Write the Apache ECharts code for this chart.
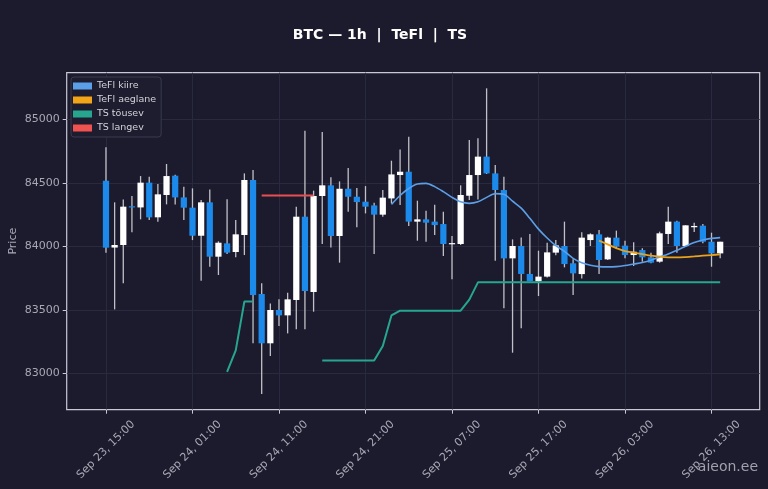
<!DOCTYPE html>
<html lang="en">

<head>
  <meta charset="UTF-8">
  <title>BTC — 1h | TeFl | TS</title>
  <script src="https://cdn.jsdelivr.net/npm/echarts@6/dist/echarts.min.js"></script>
  <style>
    html, body {
      margin: 0;
      padding: 0;
      background: #1c1b2d;
    }

    #chart {
      width: 768px;
      height: 489px;
    }
  </style>
</head>

<body>
  <div id="chart"></div>

  <script>
    // tunnised küünlad, Sep 23 15:00 ... Sep 26 14:00
    const opens = [84516, 83990, 84010, 84315, 84306, 84501, 84228, 84404, 84556, 84385,
      84304, 84083, 84346, 83918, 84023, 83955, 84089, 84522, 83624, 83236,
      83498, 83456, 83577, 84233, 83640, 84396, 84480, 84081, 84453, 84390,
      84351, 84322, 84249, 84377, 84561, 84587, 84194, 84212, 84194, 84175,
      84020, 84018, 84398, 84561, 84706, 84574, 84443, 83905, 84002, 83782,
      83724, 83761, 83950, 84002, 83866, 83781, 84049, 84094, 83897, 84068,
      84005, 83931, 83970, 83913, 83879, 84097, 84194, 84002, 84150, 84162,
      84036, 83944]
    const closes = [83989, 84010, 84312, 84310, 84501, 84228, 84409, 84553, 84385, 84304,
      84083, 84346, 83918, 84028, 83950, 84094, 84522, 83616, 83236, 83498,
      83456, 83582, 84233, 83648, 84396, 84480, 84081, 84453, 84390, 84348,
      84312, 84249, 84383, 84566, 84587, 84194, 84212, 84186, 84167, 84018,
      84025, 84404, 84561, 84706, 84574, 84443, 83905, 84002, 83782, 83724,
      83761, 83952, 84007, 83860, 83787, 84068, 84094, 83892, 84068, 83997,
      83931, 83957, 83913, 83871, 84102, 84194, 84002, 84165, 84160, 84036,
      83944, 84036]
    const lows = [83949, 83503, 83708, 84110, 84212, 84207, 84194, 84330, 84330, 84207,
      84049, 83729, 83839, 83774, 83939, 83913, 83931, 83236, 82837, 83136,
      83372, 83314, 83346, 83346, 83485, 84018, 83991, 83871, 84272, 84149,
      84259, 83939, 84233, 84338, 84325, 84160, 84044, 84036, 84089, 83923,
      83740, 84010, 84364, 84369, 84569, 83887, 83511, 83162, 83354, 83724,
      83608, 83755, 83929, 83834, 83616, 83747, 84002, 83781, 83892, 83978,
      83905, 83845, 83879, 83866, 83871, 84018, 83950, 83997, 84112, 84023,
      83839, 83905]
    const highs = [84779, 84346, 84369, 84396, 84553, 84548, 84490, 84648, 84564, 84469,
      84456, 84364, 84448, 84039, 84370, 84207, 84574, 84600, 83708, 83550,
      83582, 83634, 84312, 84910, 84438, 84900, 84543, 84511, 84616, 84459,
      84474, 84343, 84443, 84674, 84763, 84863, 84359, 84280, 84328, 84272,
      84081, 84480, 84837, 84850, 85244, 84640, 84548, 84054, 84070, 84097,
      83965, 84028, 84049, 84194, 83897, 84110, 84102, 84128, 84076, 84123,
      84044, 84031, 83984, 83950, 84115, 84312, 84202, 84165, 84186, 84175,
      84107, 84036]

    const _ = null
    const tefiKiire = [_, _, _, _, _, _, _, _, _, _,
      _, _, _, _, _, _, _, _, _, _,
      _, _, _, _, _, _, _, _, _, _,
      _, _, _, 84330, 84400, 84455, 84490, 84495, 84470, 84430,
      84385, 84350, 84338, 84350, 84385, 84415, 84410, 84355, 84300, 84220,
      84135, 84065, 84005, 83960, 83905, 83870, 83850, 83840, 83838, 83840,
      83848, 83860, 83872, 83890, 83915, 83940, 83968, 84000, 84030, 84050,
      84062, 84068]
    const tefiAeglane = [_, _, _, _, _, _, _, _, _, _,
      _, _, _, _, _, _, _, _, _, _,
      _, _, _, _, _, _, _, _, _, _,
      _, _, _, _, _, _, _, _, _, _,
      _, _, _, _, _, _, _, _, _, _,
      _, _, _, _, _, _, _, 84045, 84015, 83985,
      83962, 83950, 83938, 83926, 83918, 83913, 83912, 83915, 83920, 83926,
      83931, 83936]
    const tsTousev = [_, _, _, _, _, _, _, _, _, _,
      _, _, _, _, 83010, 83180, 83565, 83565, _, _,
      _, _, _, _, _, 83100, 83100, 83100, 83100, 83100,
      83100, 83100, 83215, 83455, 83493, 83493, 83493, 83493, 83493, 83493,
      83493, 83493, 83580, 83716, 83716, 83716, 83716, 83716, 83716, 83716,
      83716, 83716, 83716, 83716, 83716, 83716, 83716, 83716, 83716, 83716,
      83716, 83716, 83716, 83716, 83716, 83716, 83716, 83716, 83716, 83716,
      83716, 83716]
    const tsLangev = [_, _, _, _, _, _, _, _, _, _,
      _, _, _, _, _, _, _, _, 84400, 84400,
      84400, 84400, 84400, 84400, 84400, _, _, _, _, _,
      _, _, _, _, _, _, _, _, _, _,
      _, _, _, _, _, _, _, _, _, _,
      _, _, _, _, _, _, _, _, _, _,
      _, _, _, _, _, _, _, _, _, _,
      _, _]

    const xTicks = [0, 10, 20, 30, 40, 50, 60, 70]
    const xTickLabels = ['Sep 23, 15:00', 'Sep 24, 01:00', 'Sep 24, 11:00', 'Sep 24, 21:00',
      'Sep 25, 07:00', 'Sep 25, 17:00', 'Sep 26, 03:00', 'Sep 26, 13:00']
    const yTicks = [83000, 83500, 84000, 84500, 85000]

    const bg = '#1c1b2d'
    const frame = '#c8c8d6'
    const gridLine = '#2a2a3f'
    const labelColor = '#a8a8b6'
    const upColor = '#ffffff'
    const downColor = '#1b8aeb'
    const wickColor = '#c0c0c8'
    const font = 'DejaVu Sans'

    function pairs(arr) {
      return arr.map((v, i) => [i, v])
    }

    function renderCandle(params, api) {
      const x = api.value(0)
      const o = api.value(1)
      const c = api.value(2)
      const pO = api.coord([x, o])
      const pC = api.coord([x, c])
      const pL = api.coord([x, api.value(3)])
      const pH = api.coord([x, api.value(4)])
      const w = api.size([1, 0])[0] * 0.72
      const top = Math.min(pO[1], pC[1])
      const h = Math.max(Math.abs(pO[1] - pC[1]), 1.2)
      return {
        type: 'group',
        children: [{
            type: 'line',
            shape: { x1: pL[0], y1: pL[1], x2: pH[0], y2: pH[1] },
            style: { stroke: wickColor, lineWidth: 1.3 }
          },
          {
            type: 'rect',
            shape: { x: pO[0] - w / 2, y: top, width: w, height: h },
            style: { fill: c >= o ? upColor : downColor }
          }
        ]
      }
    }

    const candleData = opens.map((o, i) => [i, o, closes[i], lows[i], highs[i]])

    const myChart = echarts.init(document.getElementById('chart'))
    const option = {
      backgroundColor: bg,
      animation: false,
      textStyle: { fontFamily: font },
      title: {
        text: 'BTC \u2014 1h  |  TeFl  |  TS',
        left: 375,
        top: 23,
        textAlign: 'center',
        textStyle: { color: '#ffffff', fontSize: 14, fontWeight: 'bold', fontFamily: font }
      },
      legend: {
        data: ['TeFl kiire', 'TeFl aeglane', 'TS tõusev', 'TS langev'],
        orient: 'vertical',
        left: 71,
        top: 77,
        icon: 'rect',
        itemWidth: 19,
        itemHeight: 7,
        itemGap: 2,
        padding: [3, 5, 3, 2],
        backgroundColor: '#1e1d30',
        borderColor: '#3a3a4f',
        borderWidth: 1,
        borderRadius: 3,
        textStyle: { color: '#d2d2da', fontSize: 9.5, lineHeight: 12, fontFamily: font }
      },
      grid: {
        left: 66.7,
        right: 8.3,
        top: 72.7,
        bottom: 79.3,
        outerBoundsMode: 'none',
        containLabel: false,
        show: true,
        borderColor: frame,
        borderWidth: 1.2,
        backgroundColor: bg
      },
      xAxis: {
        type: 'value',
        min: -4.54,
        max: 75.57,
        axisLine: { show: false, onZero: false },
        axisTick: { show: true, length: 4, customValues: xTicks, lineStyle: { color: frame } },
        splitLine: { show: true, lineStyle: { color: gridLine, width: 1 } },
        axisLabel: {
          customValues: xTicks,
          rotate: 45,
          align: 'center',
          verticalAlign: 'middle',
          margin: 40,
          color: labelColor,
          fontSize: 11,
          fontFamily: font,
          formatter: v => xTickLabels[xTicks.indexOf(Math.round(v))] || ''
        }
      },
      yAxis: {
        type: 'value',
        min: 82713,
        max: 85367,
        name: 'Price',
        nameLocation: 'middle',
        nameGap: 48,
        nameMoveOverlap: false,
        nameTextStyle: { color: labelColor, fontSize: 11, fontFamily: font },
        axisLine: { show: false, onZero: false },
        axisTick: { show: true, length: 4, customValues: yTicks, lineStyle: { color: frame } },
        splitLine: { show: true, lineStyle: { color: gridLine, width: 1 } },
        axisLabel: {
          customValues: yTicks,
          margin: 7,
          color: labelColor,
          fontSize: 11,
          fontFamily: font,
          formatter: v => String(v)
        }
      },
      graphic: [{
        type: 'text',
        right: 10,
        top: 460,
        style: {
          text: 'aieon.ee',
          fill: '#a0a0ae',
          font: '14px "DejaVu Sans"'
        }
      }],
      series: [{
          name: 'BTC',
          type: 'custom',
          renderItem: renderCandle,
          encode: { x: 0, y: [1, 2, 3, 4] },
          data: candleData,
          z: 2
        },
        {
          name: 'TeFl kiire',
          type: 'line',
          data: pairs(tefiKiire),
          showSymbol: false,
          smooth: 0.3,
          itemStyle: { color: '#5b9fe8' },
          lineStyle: { color: '#5b9fe8', width: 1.6 },
          z: 3
        },
        {
          name: 'TeFl aeglane',
          type: 'line',
          data: pairs(tefiAeglane),
          showSymbol: false,
          smooth: 0.3,
          itemStyle: { color: '#f2a516' },
          lineStyle: { color: '#e8a21c', width: 1.8 },
          z: 3
        },
        {
          name: 'TS tõusev',
          type: 'line',
          data: pairs(tsTousev),
          showSymbol: false,
          connectNulls: false,
          itemStyle: { color: '#26a68f' },
          lineStyle: { color: '#26a68f', width: 2 },
          z: 3
        },
        {
          name: 'TS langev',
          type: 'line',
          data: pairs(tsLangev),
          showSymbol: false,
          itemStyle: { color: '#ef5350' },
          lineStyle: { color: '#e85050', width: 2 },
          z: 3
        }
      ]
    }
    myChart.setOption(option)
  </script>
</body>

</html>
